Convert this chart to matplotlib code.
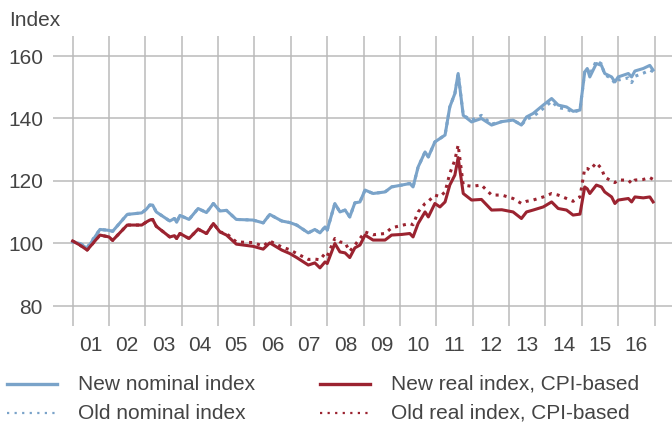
import matplotlib
matplotlib.use("Agg")
import matplotlib.pyplot as plt
from matplotlib.lines import Line2D

# decimal years (2001.0 = start of 2001)
t = [2001.0, 2001.2, 2001.4, 2001.75, 2002.0, 2002.1, 2002.5, 2002.9, 2003.03, 2003.12,
     2003.2, 2003.3, 2003.67, 2003.8, 2003.86, 2003.95, 2004.2, 2004.45, 2004.68, 2004.87,
     2005.05, 2005.23, 2005.5, 2005.96, 2006.24, 2006.42, 2006.75, 2006.97, 2007.16, 2007.48,
     2007.66, 2007.8, 2007.94, 2008.0, 2008.21, 2008.35, 2008.49, 2008.62, 2008.76, 2008.9,
     2009.04, 2009.26, 2009.59, 2009.77, 2010.05, 2010.27, 2010.36, 2010.5, 2010.69, 2010.78,
     2010.96, 2011.1, 2011.24, 2011.37, 2011.51, 2011.6, 2011.74, 2011.97, 2012.24, 2012.52,
     2012.8, 2013.11, 2013.34, 2013.48, 2013.66, 2013.94, 2014.17, 2014.35, 2014.58, 2014.76,
     2014.95, 2015.08, 2015.15, 2015.22, 2015.4, 2015.54, 2015.63, 2015.82, 2015.91, 2016.0,
     2016.28, 2016.37, 2016.46, 2016.69, 2016.87, 2016.96]

new_nominal = [100.5, 100.0, 98.4, 104.5, 104.2, 103.9, 109.3, 109.8, 111.0, 112.3,
               112.3, 110.1, 107.2, 108.0, 106.8, 109.0, 107.7, 111.2, 109.9, 112.8,
               110.4, 110.6, 107.7, 107.5, 106.6, 109.3, 107.2, 106.7, 105.9, 103.4,
               104.5, 103.4, 105.3, 104.3, 112.8, 110.1, 110.7, 108.5, 113.0, 113.3,
               117.1, 116.0, 116.5, 118.1, 118.7, 119.2, 118.1, 124.5, 129.3, 127.7,
               132.5, 133.6, 134.7, 143.7, 148.0, 154.4, 141.0, 138.9, 140.0, 137.9,
               139.0, 139.5, 137.9, 140.5, 141.6, 144.3, 146.4, 144.3, 143.7, 142.3,
               142.7, 154.9, 156.0, 153.3, 157.6, 157.0, 154.4, 153.3, 151.7, 153.3,
               154.4, 153.3, 155.2, 156.0, 157.0, 155.5]

old_nominal = [100.5, 100.0, 98.8, 104.5, 104.2, 103.9, 109.3, 109.8, 111.0, 112.3,
               112.3, 110.1, 107.2, 108.0, 106.8, 109.0, 107.7, 111.2, 109.9, 112.8,
               110.4, 110.6, 107.7, 107.5, 106.6, 109.3, 107.2, 106.7, 105.9, 103.4,
               104.5, 103.4, 105.3, 104.3, 112.8, 110.1, 110.7, 108.5, 113.0, 113.3,
               117.1, 116.0, 116.5, 118.1, 118.7, 119.2, 118.1, 124.5, 129.3, 127.7,
               132.5, 133.6, 134.7, 143.7, 148.0, 154.4, 141.0, 139.5, 141.0, 138.2,
               139.0, 139.5, 137.9, 139.8, 140.6, 143.2, 145.5, 143.5, 143.0, 142.0,
               142.7, 154.9, 156.0, 154.0, 158.5, 157.5, 154.0, 152.8, 151.2, 152.3,
               153.0, 151.5, 153.5, 154.5, 155.5, 155.0]

new_real = [100.8, 99.5, 97.9, 102.7, 102.1, 101.0, 105.9, 105.9, 106.9, 107.5,
            107.7, 105.5, 102.1, 102.5, 101.6, 103.2, 101.6, 104.6, 103.2, 106.4,
            103.7, 102.7, 99.8, 99.1, 98.2, 100.2, 97.9, 96.8, 95.5, 93.1,
            93.8, 92.2, 94.1, 93.6, 100.0, 97.3, 97.0, 95.5, 98.6, 99.5,
            102.7, 101.1, 101.1, 102.7, 102.9, 103.2, 102.1, 106.4, 110.1, 108.5,
            112.8, 111.7, 113.3, 118.7, 121.9, 127.5, 116.0, 113.9, 114.1, 110.7,
            110.8, 110.1, 108.0, 110.1, 110.7, 111.7, 113.3, 111.2, 110.7, 109.1,
            109.4, 118.1, 117.5, 116.0, 118.7, 118.1, 116.5, 114.9, 112.8, 113.9,
            114.4, 113.3, 114.9, 114.6, 114.9, 113.3]

old_real = [100.8, 99.5, 97.9, 102.7, 102.1, 101.0, 105.9, 105.9, 106.9, 107.5,
            107.7, 105.5, 102.1, 102.5, 101.6, 103.2, 101.6, 104.6, 103.2, 106.4,
            103.7, 103.2, 100.5, 100.3, 99.2, 100.8, 98.9, 98.0, 96.8, 94.9,
            95.0, 94.8, 96.8, 96.0, 101.6, 100.5, 100.2, 97.5, 99.5, 101.6,
            103.7, 102.8, 103.2, 105.0, 105.8, 106.4, 106.0, 110.1, 112.8, 113.5,
            115.5, 115.0, 116.5, 122.4, 126.7, 131.5, 118.7, 118.3, 118.7, 115.5,
            115.5, 114.4, 112.8, 113.5, 113.9, 114.9, 116.0, 115.5, 114.4, 113.5,
            114.9, 124.0, 124.0, 123.5, 125.8, 124.0, 121.3, 119.9, 119.5, 120.3,
            120.3, 119.2, 120.3, 120.5, 121.1, 120.5]

years = list(range(2001, 2017))
year_labels = [f"{y % 100:02d}" for y in years]
y_ticks = [80, 100, 120, 140, 160]

BLUE = "#7aa3c9"
RED = "#9b2330"
TEXT = "#444444"
GRID = "#bababa"
FS = 15

plt.rcParams["font.family"] = ["Liberation Sans", "DejaVu Sans"]

fig = plt.figure(figsize=(6.72, 4.23), dpi=100)
ax = fig.add_axes([53 / 672, 1 - 326 / 423, 619 / 672, 290 / 423])

ax.plot(t, old_nominal, color=BLUE, lw=2.2, ls=":", zorder=3)
ax.plot(t, new_nominal, color=BLUE, lw=2.2, zorder=4)
ax.plot(t, old_real, color=RED, lw=2.2, ls=":", zorder=3)
ax.plot(t, new_real, color=RED, lw=2.2, zorder=4)

ax.set_xlim(2000.46, 2017.48)
ax.set_ylim(73.6, 166.4)

ax.set_xticks(list(range(2001, 2018)))
ax.set_xticklabels([])
ax.set_xticks([y + 0.5 for y in years], minor=True)
ax.set_xticklabels(year_labels, minor=True)
ax.set_yticks(y_ticks)
ax.tick_params(axis="both", which="both", length=0, labelsize=FS, colors=TEXT)
ax.tick_params(axis="x", which="minor", pad=7.5)
ax.tick_params(axis="y", pad=7.2)
ax.grid(True, which="major", color=GRID, lw=1.1)
ax.set_axisbelow(True)
for s in ax.spines.values():
    s.set_visible(False)

fig.text(9 / 672, 1 - 20.5 / 423, "Index", fontsize=FS, color=TEXT, va="center", ha="left")

# legend drawn by hand, positions in figure pixels
entries = [
    (7, 384, BLUE, "-", "New nominal index"),
    (7, 413, BLUE, ":", "Old nominal index"),
    (320, 384, RED, "-", "New real index, CPI-based"),
    (320, 413, RED, ":", "Old real index, CPI-based"),
]
for x0, y0, c, ls, label in entries:
    yf = 1 - y0 / 423
    dotted = ls == ":"
    fig.add_artist(Line2D([x0 / 672, (x0 + 50) / 672], [yf, yf], color=c,
                          lw=1.6 if dotted else 2.4,
                          ls=(0, (1, 2.4)) if dotted else "-",
                          transform=fig.transFigure))
    fig.text((x0 + 71) / 672, yf, label, fontsize=FS, color=TEXT, va="center", ha="left")

fig.savefig("out.png", dpi=100)
